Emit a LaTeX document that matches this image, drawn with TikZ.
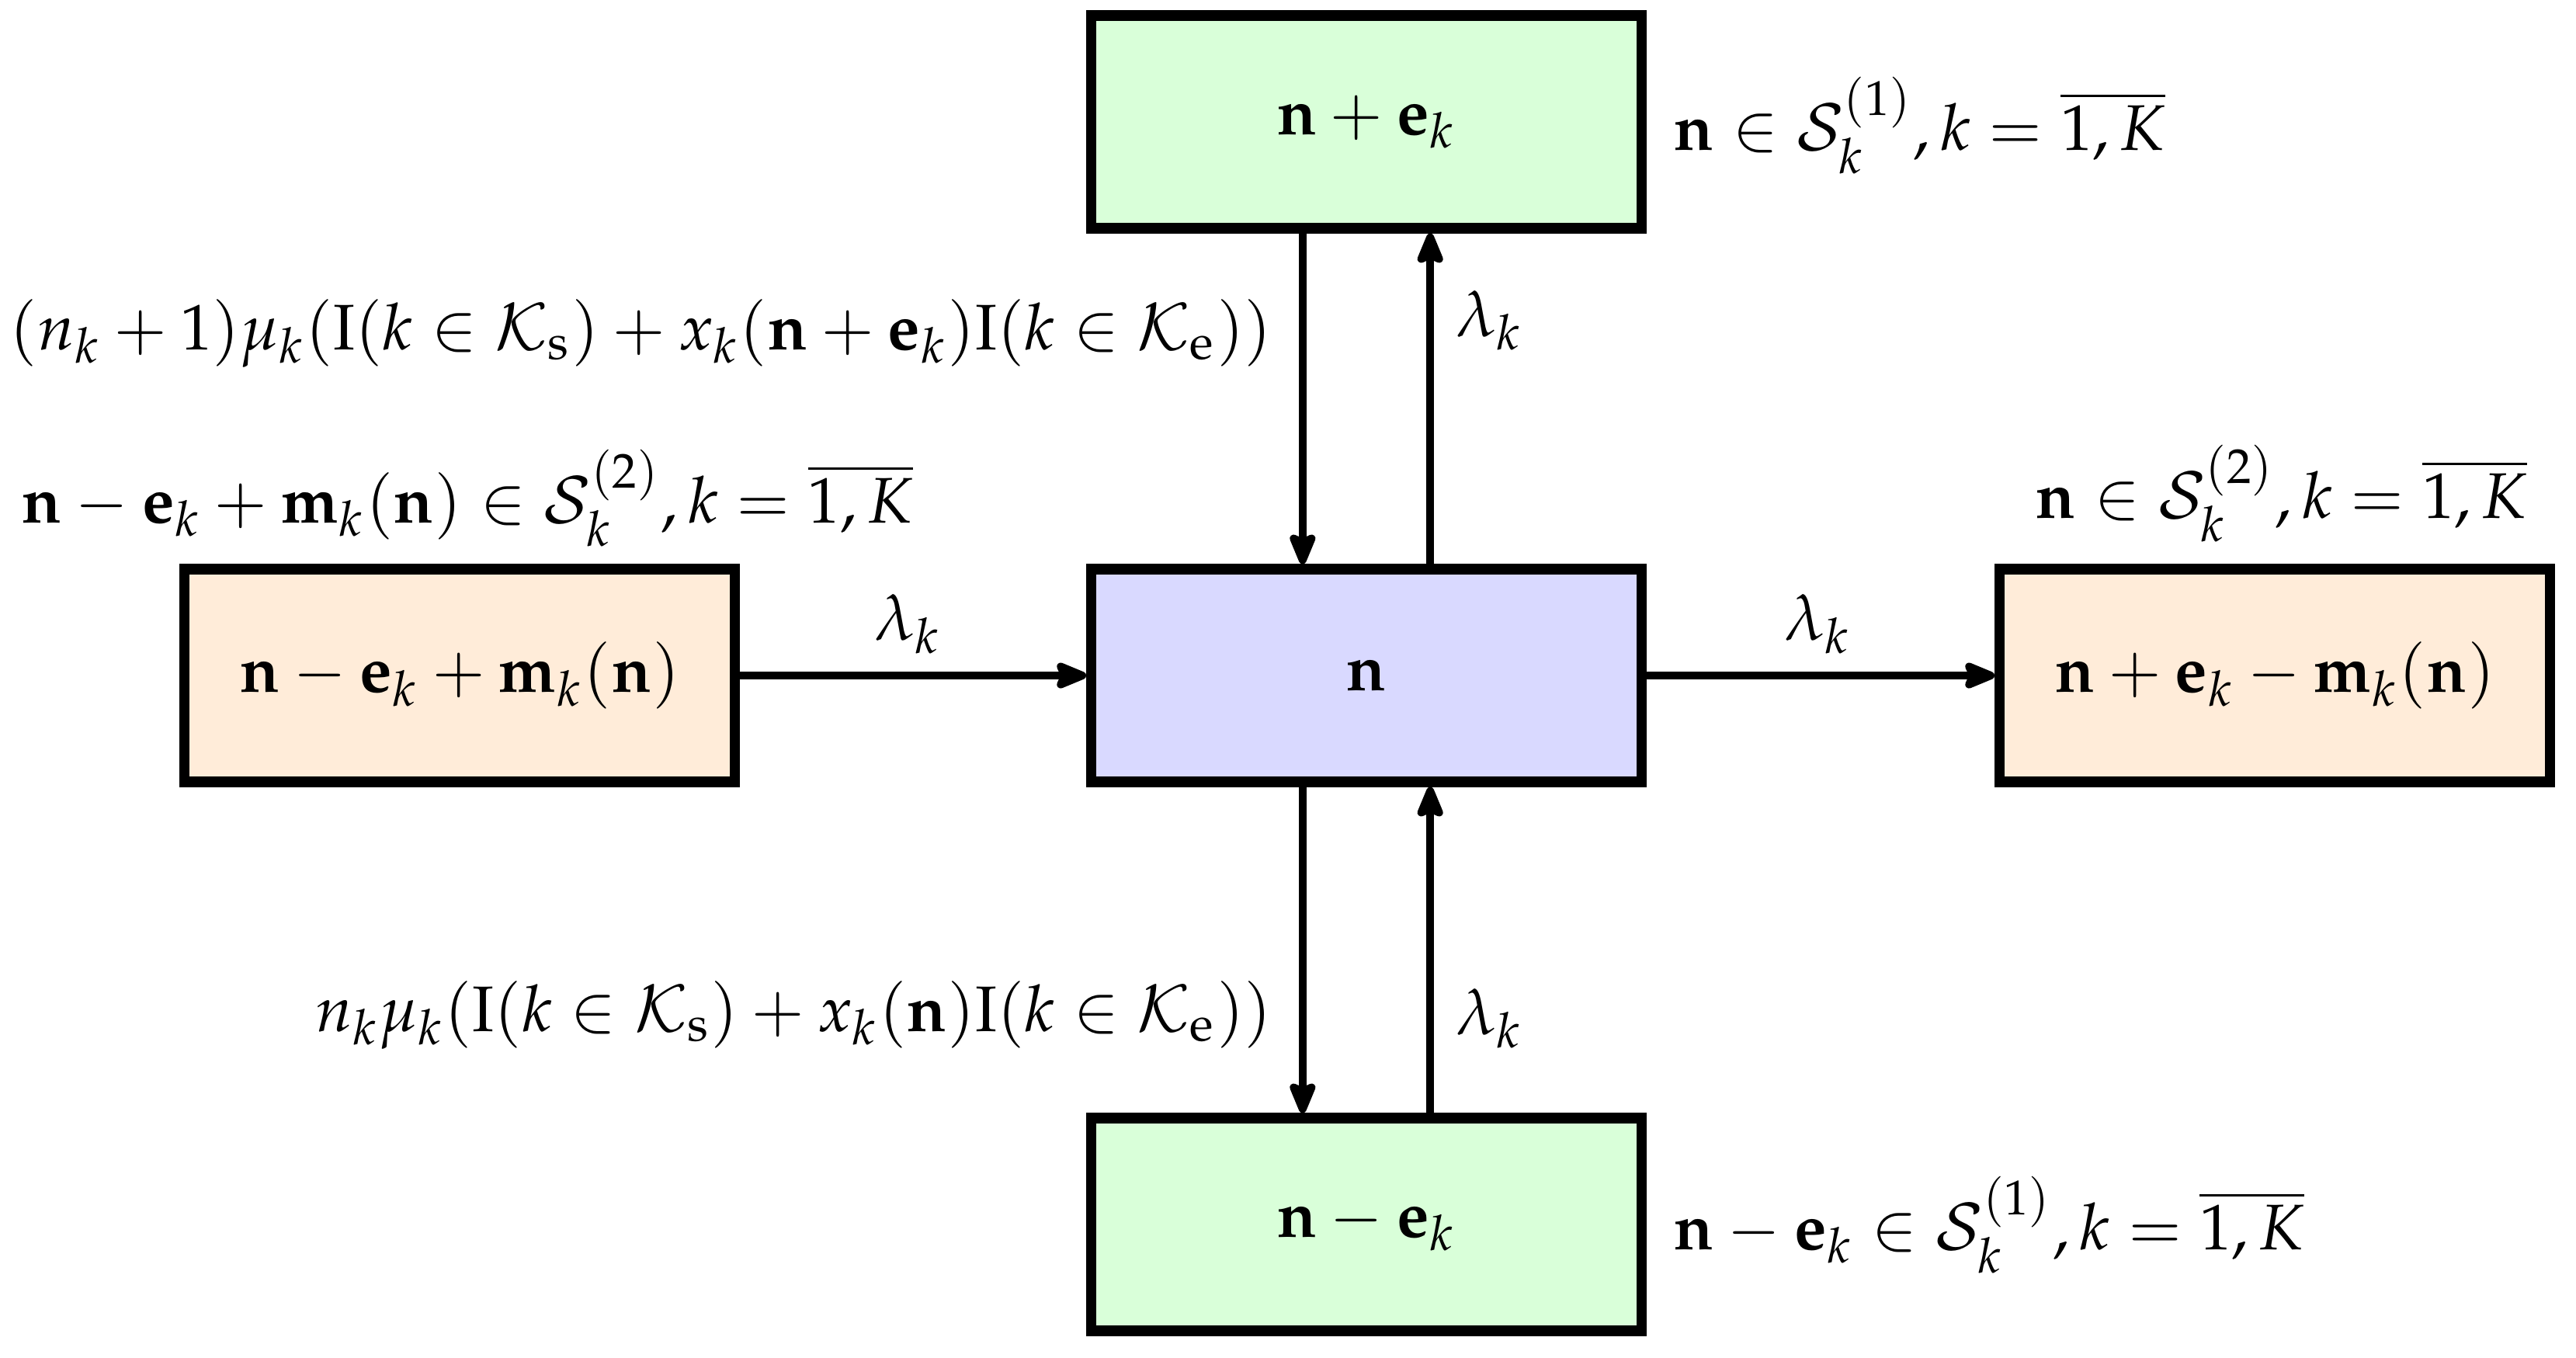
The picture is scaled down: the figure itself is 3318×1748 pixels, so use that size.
\documentclass[tikz,border=0pt]{standalone}
\usepackage{mathpazo}
\usetikzlibrary{arrows.meta}
\newcommand{\lpar}{\mathopen{}\left(}
\newcommand{\rpar}{\right)\mathclose{}}
\begin{document}
\begin{tikzpicture}[x=0.12048pt,y=-0.12048pt,
  state/.style={draw, line width=1.6pt, minimum width=3cm, minimum height=1.16cm, inner sep=0pt},
  gbox/.style={state, fill=green!15},
  bbox/.style={state, fill=blue!15},
  obox/.style={state, fill=orange!15},
  arr/.style={line width=1.2pt, -{Stealth[length=6pt,width=4.8pt,inset=1pt,round]}},
  lab/.style={inner sep=0pt}]
\useasboundingbox (0,0) rectangle (3318,1748);
\node[bbox] (c) at (1760,870) {$\mathbf{n}$};
\node[gbox] (t) at (1760,157) {$\mathbf{n}+\mathbf{e}_k$};
\node[gbox] (b) at (1760,1577) {$\mathbf{n}-\mathbf{e}_k$};
\node[obox] (l) at (592,870) {$\mathbf{n}-\mathbf{e}_k+\mathbf{m}_k(\mathbf{n})$};
\node[obox] (r) at (2930,870) {$\mathbf{n}+\mathbf{e}_k-\mathbf{m}_k(\mathbf{n})$};
\draw[arr] ([xshift=-9.9pt]t.south) -- ([xshift=-9.9pt]c.north);
\draw[arr] ([xshift=9.9pt]c.north) -- ([xshift=9.9pt]t.south);
\draw[arr] ([xshift=-9.9pt]c.south) -- ([xshift=-9.9pt]b.north);
\draw[arr] ([xshift=9.9pt]b.north) -- ([xshift=9.9pt]c.south);
\draw[arr] (l) -- (c);
\draw[arr] (c) -- (r);
\node[lab] (lt) at (1919,413) {$\lambda_k$};
\node[lab] (lb) at (1919,1312) {$\lambda_k$};
\node[lab] (ll) at (1170,804) {$\lambda_k$};
\node[lab] (lr) at (2342,804) {$\lambda_k$};
\node[lab, anchor=base east] (mt) at (1640,450) {$\lpar n_k+1\rpar\mu_k\lpar\mathrm{I}\lpar k\in\mathcal{K}_{\mathrm{s}}\rpar+x_k\lpar\mathbf{n}+\mathbf{e}_k\rpar\mathrm{I}\lpar k\in\mathcal{K}_{\mathrm{e}}\rpar\rpar$};
\node[lab, anchor=base east] (mb) at (1640,1328) {$n_k\mu_k\lpar\mathrm{I}\lpar k\in\mathcal{K}_{\mathrm{s}}\rpar+x_k\lpar\mathbf{n}\rpar\mathrm{I}\lpar k\in\mathcal{K}_{\mathrm{e}}\rpar\rpar$};
\node[lab, anchor=base west] (at) at (2154,193) {$\mathbf{n}\in\mathcal{S}_k^{(1)},k=\overline{1,K}$};
\node[lab, anchor=base west] (ab) at (2154,1609) {$\mathbf{n}-\mathbf{e}_k\in\mathcal{S}_k^{(1)},k=\overline{1,K}$};
\node[lab, anchor=base west] (al) at (26,673) {$\mathbf{n}-\mathbf{e}_k+\mathbf{m}_k(\mathbf{n})\in\mathcal{S}_k^{(2)},k=\overline{1,K}$};
\node[lab, anchor=base west] (ar) at (2620,667) {$\mathbf{n}\in\mathcal{S}_k^{(2)},k=\overline{1,K}$};
\end{tikzpicture}
\end{document}
